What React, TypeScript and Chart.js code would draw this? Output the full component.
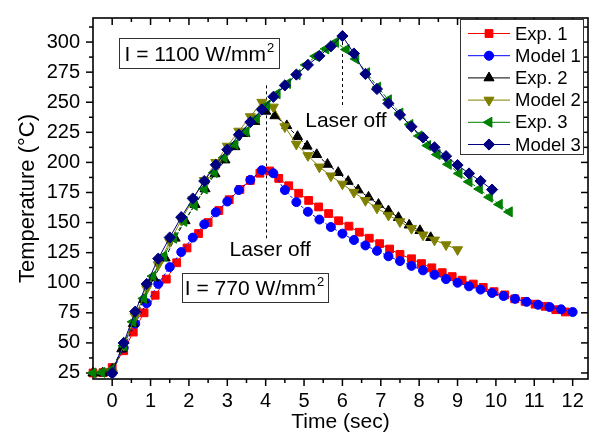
import React, { useEffect, useRef } from 'react';
import { Chart, registerables } from 'chart.js';
import { drawPoint } from 'chart.js/helpers';

Chart.register(...registerables);

const FONT = "'Liberation Sans', Arial, sans-serif";

// Axis ticks
const xTickValues = [0, 1, 2, 3, 4, 5, 6, 7, 8, 9, 10, 11, 12];
const xMinorValues = [0.5, 1.5, 2.5, 3.5, 4.5, 5.5, 6.5, 7.5, 8.5, 9.5, 10.5, 11.5];
const yTickValues = [25, 50, 75, 100, 125, 150, 175, 200, 225, 250, 275, 300];
const yMinorValues = [37.5, 62.5, 87.5, 112.5, 137.5, 162.5, 187.5, 212.5, 237.5, 262.5, 287.5, 312.5];

// Exp. 1 (770 W/mm2, measured)
const exp1Time = [-0.5, -0.24, 0, 0.3, 0.55, 0.83, 1.12, 1.41, 1.68, 1.95, 2.25, 2.5, 2.78, 3.05, 3.33, 3.6, 3.85, 4.1, 4.34, 4.6, 4.86, 5.12, 5.38, 5.64, 5.9, 6.17, 6.44, 6.7, 6.97, 7.23, 7.5, 7.8, 8.06, 8.33, 8.6, 8.86, 9.12, 9.41, 9.67, 9.95, 10.23, 10.49, 10.76, 11.02, 11.28, 11.56, 11.81];
const exp1Temp = [25, 25.3, 29.5, 43.5, 59, 75, 89.6, 103, 116.6, 128.9, 140.9, 150, 160, 169, 177.5, 185, 191, 192.9, 186.7, 180.6, 174.4, 168.4, 163, 157.5, 151.5, 147, 142, 137, 132.5, 128, 123.6, 119.9, 115.9, 112.4, 108.4, 105.1, 102.1, 98.9, 96.1, 92.6, 89.9, 86.6, 84.5, 82.2, 80.4, 77.6, 75.7];

// Model 1
const model1Time = [0, 0.3, 0.6, 0.9, 1.2, 1.5, 1.8, 2.1, 2.4, 2.7, 3.0, 3.3, 3.6, 3.9, 4.2, 4.5, 4.8, 5.1, 5.4, 5.7, 6.0, 6.3, 6.6, 6.9, 7.2, 7.5, 7.8, 8.1, 8.4, 8.7, 9.0, 9.3, 9.6, 9.9, 10.2, 10.5, 10.8, 11.1, 11.4, 11.7, 12.0];
const model1Temp = [25, 46, 66, 83, 99, 113, 125.5, 137.5, 148.5, 158.5, 167.5, 177, 185.5, 193.5, 191, 177, 167, 159, 152.5, 146.3, 140.8, 135.5, 131, 126.5, 122, 118, 114, 110.3, 106.6, 103, 100, 97, 94.3, 91.5, 89, 86.6, 84.1, 81.7, 79.8, 77.9, 75.7];

// Exp. 2
const exp2Time = [-0.5, -0.25, 0, 0.25, 0.55, 0.82, 1.08, 1.38, 1.64, 1.9, 2.16, 2.42, 2.68, 2.94, 3.2, 3.46, 3.72, 4.0, 4.24, 4.55, 4.83, 5.08, 5.33, 5.61, 5.89, 6.15, 6.41, 6.68, 6.94, 7.2, 7.46, 7.74, 8.02, 8.3];
const exp2Temp = [25, 25, 28, 45, 66, 86, 104, 120.5, 137, 151.5, 165, 178, 190.5, 202, 213, 224, 234, 242.5, 238.7, 230.5, 221.5, 213.5, 206.5, 198.4, 191.6, 184.2, 177.1, 171.1, 165.1, 159.7, 154.2, 147.9, 143.3, 137.5];

// Model 2
const model2Time = [0, 0.3, 0.6, 0.9, 1.2, 1.5, 1.8, 2.1, 2.4, 2.7, 3.0, 3.3, 3.6, 3.9, 4.2, 4.5, 4.8, 5.1, 5.4, 5.7, 6.0, 6.3, 6.6, 6.9, 7.2, 7.5, 7.8, 8.1, 8.4, 8.7, 9.0];
const model2Temp = [25, 48, 72, 95, 115, 134, 152, 169, 185, 200, 213.5, 226, 238, 250, 246, 229.7, 215.2, 205.7, 196.2, 188.8, 182, 175.2, 168.4, 162.1, 156.1, 150.7, 145.2, 139.7, 135.5, 131.6, 127.5];

// Exp. 3
const exp3Time = [-0.5, -0.27, 0, 0.3, 0.54, 0.82, 1.06, 1.34, 1.6, 1.87, 2.14, 2.4, 2.66, 2.92, 3.2, 3.49, 3.76, 4.03, 4.3, 4.57, 4.82, 5.05, 5.3, 5.57, 5.82, 6.1, 6.35, 6.63, 6.92, 7.2, 7.5, 7.76, 8.0, 8.22, 8.47, 8.76, 9.04, 9.3, 9.57, 9.83, 10.09, 10.35];
const exp3Temp = [25, 25.5, 28, 47.6, 67.5, 87, 105.5, 122, 137, 151, 164.3, 178, 191.6, 204, 215, 225.6, 236.5, 247.4, 257, 265.5, 273, 281, 288.3, 294.3, 299.8, 293.8, 286, 274.5, 262.5, 252, 241, 231.5, 222, 214, 206.5, 198.4, 190.8, 183.9, 177.9, 171.1, 165.1, 158.9];

// Model 3
const model3Time = [0, 0.3, 0.6, 0.9, 1.2, 1.5, 1.8, 2.1, 2.4, 2.7, 3.0, 3.3, 3.6, 3.9, 4.2, 4.5, 4.8, 5.1, 5.4, 5.7, 6.0, 6.3, 6.6, 6.9, 7.2, 7.5, 7.8, 8.1, 8.4, 8.7, 9.0, 9.3, 9.6, 9.9];
const model3Temp = [25, 50, 76, 99, 120, 137.6, 154.5, 170, 184.5, 198, 210.6, 223, 233.5, 244, 254.5, 264, 273, 281, 288.5, 296.5, 305, 290.5, 273.5, 261, 249, 239.5, 229.7, 220.7, 212.5, 205.2, 197.8, 190.8, 184.5, 177.4];

// Annotations (data coordinates)
const laserOffLines = [
  { t: 4, from: 137, to: 264 },
  { t: 6, from: 246, to: 305 },
];
const laserOffLabels = [
  { t: 6.09, T: 229.4, text: 'Laser off' },
  { t: 4.12, T: 122.1, text: 'Laser off' },
];
const intensityBoxes = [
  { t: 2.273, T: 290.9, w: 160, h: 30, main: 'I = 1100 W/mm', sup: '2' },
  { t: 3.711, T: 96.1, w: 146, h: 29, main: 'I = 770 W/mm', sup: '2' },
];

const toXY = (ts: number[], vs: number[]) => ts.map((t, i) => ({ x: t, y: vs[i] }));

const seriesDefs = [
  { label: 'Exp. 1', time: exp1Time, temp: exp1Temp, color: '#FF0000', style: 'rect', radius: 5.5, rotation: 0, dash: [] as number[] },
  { label: 'Model 1', time: model1Time, temp: model1Temp, color: '#0000FF', style: 'circle', radius: 4.5, rotation: 0, dash: [3, 2] },
  { label: 'Exp. 2', time: exp2Time, temp: exp2Temp, color: '#000000', style: 'triangle', radius: 5.8, rotation: 0, dash: [4, 2] },
  { label: 'Model 2', time: model2Time, temp: model2Temp, color: '#808000', style: 'triangle', radius: 5.8, rotation: 180, dash: [] as number[] },
  { label: 'Exp. 3', time: exp3Time, temp: exp3Temp, color: '#008000', style: 'triangle', radius: 5.8, rotation: 270, dash: [4, 2] },
  { label: 'Model 3', time: model3Time, temp: model3Temp, color: '#000080', style: 'rectRot', radius: 5.6, rotation: 0, dash: [] as number[] },
];

function drawSupText(ctx: CanvasRenderingContext2D, main: string, sup: string, cx: number, baseline: number, size: number) {
  ctx.font = `${size}px ${FONT}`;
  const mw = ctx.measureText(main).width;
  const supSize = Math.round(size * 0.62);
  ctx.font = `${supSize}px ${FONT}`;
  const sw = ctx.measureText(sup).width;
  const x0 = cx - (mw + sw + 1) / 2;
  ctx.textAlign = 'left';
  ctx.textBaseline = 'alphabetic';
  ctx.font = `${size}px ${FONT}`;
  ctx.fillText(main, x0, baseline);
  ctx.font = `${supSize}px ${FONT}`;
  ctx.fillText(sup, x0 + mw + 1, baseline - size * 0.42);
}

const decorPlugin = {
  id: 'decor',
  beforeDatasetsDraw(chart: any) {
    const { ctx, chartArea, scales } = chart;
    const { left, right, top, bottom } = chartArea;
    const x = scales.x;
    const y = scales.y;
    ctx.save();
    ctx.strokeStyle = '#000';
    ctx.lineWidth = 1.6;
    ctx.strokeRect(left, top, right - left, bottom - top);
    const seg = (x1: number, y1: number, x2: number, y2: number) => {
      ctx.beginPath();
      ctx.moveTo(x1, y1);
      ctx.lineTo(x2, y2);
      ctx.stroke();
    };
    const MAJ = 7;
    const MIN = 4;
    ctx.lineWidth = 1.5;
    xTickValues.forEach((v) => {
      const px = x.getPixelForValue(v);
      seg(px, bottom, px, bottom + MAJ);
      seg(px, top, px, top + MAJ);
    });
    xMinorValues.forEach((v) => {
      const px = x.getPixelForValue(v);
      seg(px, bottom, px, bottom + MIN);
      seg(px, top, px, top + MIN);
    });
    yTickValues.forEach((v) => {
      const py = y.getPixelForValue(v);
      seg(left - MAJ, py, left, py);
      seg(right - MAJ, py, right, py);
    });
    yMinorValues.forEach((v) => {
      const py = y.getPixelForValue(v);
      seg(left - MIN, py, left, py);
      seg(right - MIN, py, right, py);
    });
    // laser-off dashed markers
    ctx.lineWidth = 1;
    ctx.setLineDash([3, 3]);
    laserOffLines.forEach((l) => {
      const px = Math.round(x.getPixelForValue(l.t)) + 0.5;
      seg(px, y.getPixelForValue(l.to), px, y.getPixelForValue(l.from));
    });
    ctx.setLineDash([]);
    ctx.restore();
  },
  afterDatasetsDraw(chart: any) {
    const { ctx, scales } = chart;
    const x = scales.x;
    const y = scales.y;
    ctx.save();
    ctx.fillStyle = '#000';
    // Laser off labels
    ctx.font = `21px ${FONT}`;
    ctx.textAlign = 'center';
    ctx.textBaseline = 'alphabetic';
    laserOffLabels.forEach((l) => {
      ctx.fillText(l.text, x.getPixelForValue(l.t), y.getPixelForValue(l.T));
    });
    // intensity boxes
    intensityBoxes.forEach((b) => {
      const cx = x.getPixelForValue(b.t);
      const cy = y.getPixelForValue(b.T);
      ctx.fillStyle = '#fff';
      ctx.fillRect(cx - b.w / 2, cy - b.h / 2, b.w, b.h);
      ctx.strokeStyle = '#333';
      ctx.lineWidth = 1;
      ctx.strokeRect(Math.round(cx - b.w / 2) + 0.5, Math.round(cy - b.h / 2) + 0.5, b.w, b.h);
      ctx.fillStyle = '#000';
      drawSupText(ctx, b.main, b.sup, cx, cy + 7.5, 21);
    });
    // legend
    const lx = 460, ly = 19.5, lw = 123, lh = 135;
    ctx.fillStyle = '#fff';
    ctx.fillRect(lx, ly, lw, lh);
    ctx.strokeStyle = '#333';
    ctx.lineWidth = 1;
    ctx.strokeRect(lx + 0.5, ly, lw, lh);
    seriesDefs.forEach((s, i) => {
      const ry = 33.5 + 22.2 * i;
      ctx.strokeStyle = s.color;
      ctx.lineWidth = 1;
      ctx.beginPath();
      ctx.moveTo(468, ry);
      ctx.lineTo(510, ry);
      ctx.stroke();
      ctx.fillStyle = s.color;
      drawPoint(ctx, { pointStyle: s.style as any, radius: s.radius, rotation: s.rotation, borderWidth: 1 } as any, 489, ry);
      ctx.fill();
      ctx.fillStyle = '#000';
      ctx.font = `18.5px ${FONT}`;
      ctx.textAlign = 'left';
      ctx.textBaseline = 'middle';
      ctx.fillText(s.label, 515, ry + 1);
    });
    ctx.restore();
  },
};

export default function App() {
  const ref = useRef<HTMLCanvasElement>(null);
  useEffect(() => {
    const canvas = ref.current;
    if (!canvas) return;
    const n = seriesDefs.length;
    const datasets = seriesDefs.map((s, i) => ({
      label: s.label,
      data: toXY(s.time, s.temp),
      borderColor: s.color,
      backgroundColor: s.color,
      borderWidth: 1,
      borderDash: s.dash,
      pointStyle: s.style as any,
      pointRadius: s.radius,
      pointRotation: s.rotation,
      pointBorderWidth: 1,
      pointBackgroundColor: s.color,
      pointBorderColor: s.color,
      tension: 0,
      fill: false,
      clip: false as any,
      order: n - i,
    }));
    const chart = new Chart(canvas, {
      type: 'line',
      data: { datasets },
      options: {
        responsive: false,
        animation: false,
        devicePixelRatio: 1,
        events: [],
        layout: { padding: { top: 12, right: 7, left: 0, bottom: 0 } },
        plugins: { legend: { display: false }, tooltip: { enabled: false } },
        scales: {
          x: {
            type: 'linear',
            min: -0.5,
            max: 12.4,
            afterBuildTicks: (s: any) => {
              s.ticks = xTickValues.map((v) => ({ value: v }));
            },
            afterFit: (s: any) => {
              s.height = 56;
            },
            ticks: { font: { family: FONT, size: 20 }, color: '#000', padding: 3, maxRotation: 0, autoSkip: false },
            grid: { display: true, drawOnChartArea: false, drawTicks: true, tickLength: 7, color: 'rgba(0,0,0,0)' },
            border: { display: false },
            title: { display: true, text: 'Time (sec)', font: { family: FONT, size: 21 }, color: '#000', padding: 0 },
          },
          y: {
            type: 'linear',
            min: 20,
            max: 320,
            afterBuildTicks: (s: any) => {
              s.ticks = yTickValues.map((v) => ({ value: v }));
            },
            afterFit: (s: any) => {
              s.width = 93;
            },
            ticks: { font: { family: FONT, size: 20 }, color: '#000', padding: 6, autoSkip: false },
            grid: { display: true, drawOnChartArea: false, drawTicks: true, tickLength: 7, color: 'rgba(0,0,0,0)' },
            border: { display: false },
            title: { display: true, text: 'Temperature (°C)', font: { family: FONT, size: 22 }, color: '#000', padding: 15 },
          },
        },
      } as any,
      plugins: [decorPlugin],
    });
    return () => chart.destroy();
  }, []);
  return (
    <div style={{ position: 'absolute', left: 0, top: 0, width: 595, height: 435, background: '#fff' }}>
      <canvas ref={ref} width={595} height={435} style={{ display: 'block', width: 595, height: 435 }} />
    </div>
  );
}
